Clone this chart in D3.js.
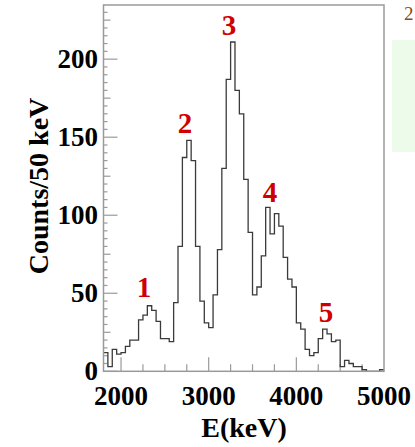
<!DOCTYPE html>
<html>
<head>
<meta charset="utf-8">
<script src="https://cdn.jsdelivr.net/npm/d3@7"></script>
<style>
  html, body { margin: 0; padding: 0; background: #fff; }
  svg { display: block; }
  text { font-family: "Liberation Serif", "Times New Roman", serif; font-weight: bold; }
</style>
</head>
<body>
<svg id="chart" width="415" height="447"></svg>
<script>
// Energy spectrum, 50 keV bins from 1800 keV to 5000 keV
const binStart = 1800;
const binWidth = 50;
const counts = [
  12, 3, 14, 11, 12, 16, 20, 20, 33, 36,
  42, 39, 32, 21, 21, 19, 44, 80, 137, 148,
  135, 80, 45, 31, 28, 49, 78, 130, 187, 211,
  180, 165, 123, 89, 49, 54, 74, 105, 88, 101,
  93, 73, 59, 54, 31, 27, 14, 10, 12, 21,
  27, 24, 19, 20, 3, 7, 5, 3, 3, 1,
  0, 0, 0, 1
];

// Peak labels (energy, counts) placed above each peak
const peakNames = ["1", "2", "3", "4", "5"];
const peakE = [2262, 2730, 3232, 3699, 4338];
const peakC = [54, 159, 222, 115, 38];

const xTickValues = [2000, 3000, 4000, 5000];
const yTickValues = [0, 50, 100, 150, 200];

const svg = d3.select("#chart");
const plotL = 103.5, plotR = 384, plotT = 5, plotB = 371.3;

const x = d3.scaleLinear().domain([1800, 5000]).range([plotL, plotR]);
const y = d3.scaleLinear().domain([0, 234.7]).range([plotB, plotT]);

const axisColor = "#9a9a9a";

// minor / medium / major ticks on the y axis (drawn inward)
const yTicks = d3.range(0, 231, 5);
svg.append("g").selectAll("line").data(yTicks).join("line")
  .attr("x1", plotL)
  .attr("x2", d => plotL + (d % 50 === 0 ? 14 : d % 25 === 0 ? 7 : 4))
  .attr("y1", d => y(d)).attr("y2", d => y(d))
  .attr("stroke", axisColor).attr("stroke-width", 1.2);

// ticks on the x axis every 250 keV, long at each 1000 keV
const xTicks = d3.range(2000, 5000, 250);
svg.append("g").selectAll("line").data(xTicks).join("line")
  .attr("x1", d => x(d)).attr("x2", d => x(d))
  .attr("y1", plotB)
  .attr("y2", d => plotB - (d % 1000 === 0 ? 14 : 7))
  .attr("stroke", axisColor).attr("stroke-width", 1.2);

// histogram outline
const pts = counts.map((c, i) => [binStart + i * binWidth, c]);
pts.push([binStart + counts.length * binWidth, counts[counts.length - 1]]);
const line = d3.line()
  .x(d => x(d[0])).y(d => y(d[1]))
  .curve(d3.curveStepAfter);
svg.append("path")
  .attr("d", line(pts))
  .attr("fill", "none")
  .attr("stroke", "#3a3a3a")
  .attr("stroke-width", 1.3);

// frame
svg.append("rect")
  .attr("x", plotL).attr("y", plotT)
  .attr("width", plotR - plotL).attr("height", plotB - plotT)
  .attr("fill", "none").attr("stroke", axisColor).attr("stroke-width", 1.5);

// tick labels
svg.append("g").selectAll("text").data(xTickValues).join("text")
  .attr("x", d => x(d)).attr("y", 405)
  .attr("text-anchor", "middle")
  .attr("font-size", 27).attr("fill", "#000")
  .text(d => d);

svg.append("g").selectAll("text").data(yTickValues).join("text")
  .attr("x", 98).attr("y", d => y(d))
  .attr("dy", "0.34em")
  .attr("text-anchor", "end")
  .attr("font-size", 27).attr("fill", "#000")
  .text(d => d);

// axis titles
svg.append("text")
  .attr("x", 244).attr("y", 437)
  .attr("text-anchor", "middle")
  .attr("font-size", 28).attr("fill", "#000")
  .text("E(keV)");

svg.append("text")
  .attr("transform", "translate(48,186) rotate(-90)")
  .attr("text-anchor", "middle")
  .attr("font-size", 28).attr("fill", "#000")
  .text("Counts/50 keV");

// peak numbers
svg.append("g").selectAll("text").data(peakNames).join("text")
  .attr("x", (d, i) => x(peakE[i]))
  .attr("y", (d, i) => y(peakC[i]))
  .attr("dy", "0.35em")
  .attr("text-anchor", "middle")
  .attr("font-size", 29).attr("fill", "#d00000")
  .text(d => d);

// neighbouring panel edge on the right
svg.append("rect")
  .attr("x", 392).attr("y", 40).attr("width", 30).attr("height", 112)
  .attr("fill", "#ecfbea");
svg.append("text")
  .attr("x", 404).attr("y", 20)
  .attr("font-size", 19).style("font-weight", "normal").attr("fill", "#8b4a14")
  .text("2");
</script>
</body>
</html>
